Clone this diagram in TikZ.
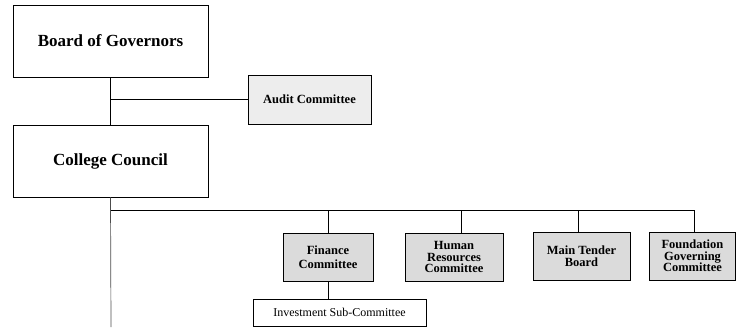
\documentclass[tikz,border=0pt]{standalone}
\usepackage{fontspec}
\setmainfont{Liberation Serif}
\usetikzlibrary{calc}

\begin{document}
\begin{tikzpicture}[x=1pt,y=-1pt,
  big/.style={draw,line width=.8pt,minimum width=195pt,minimum height=72pt,font=\fontsize{17}{19}\selectfont\bfseries},
  comm/.style={draw,line width=.8pt,fill=black!14,minimum height=48pt,inner sep=1pt,align=center,font=\fontsize{12.5}{11.5}\selectfont\bfseries},
  sub/.style={draw,line width=.6pt,minimum width=173pt,minimum height=27pt,font=\fontsize{12}{14}\selectfont}]
\useasboundingbox (0,0) rectangle (736,327);
\node[big] (gov) at (110.5,41) {Board of Governors};
\node[big] (council) at (110.5,161) {College Council};
\node[comm,fill=black!7,minimum width=123pt,minimum height=49pt] (audit) at (309.5,99.5) {Audit Committee};
\node[comm,minimum width=90pt] (fin) at (328,257) {Finance\\[2pt]Committee};
\node[comm,minimum width=98pt] (hr) at (454,257) {Human\\Resources\\Committee};
\node[comm,minimum width=97pt] (tender) at (581.5,256) {Main Tender\\Board};
\node[comm,minimum width=86pt] (found) at (692.5,256) {Foundation\\Governing\\Committee};
\node[sub] (inv) at (339.5,312.5) {Investment Sub-Committee};
\coordinate (bus) at (111,210);
\coordinate (end) at (111,327);
% lines
\draw[line width=.7pt] (gov) -- (council);
\draw[line width=.7pt] (gov.south |- audit) -- (audit);
\draw[line width=.7pt,black!70] (council.south) -- (end);
\draw[line width=.7pt] (bus) -- (694,210) -- (found.north -| 694,0);
\foreach \n/\x in {fin/328, hr/461, tender/578} {
 \draw[line width=.7pt] (\x,210) -- (\n.north -| \x,0);
}
\draw[line width=.7pt] (fin.south) -- (fin.south |- inv.north);
\end{tikzpicture}
\end{document}
